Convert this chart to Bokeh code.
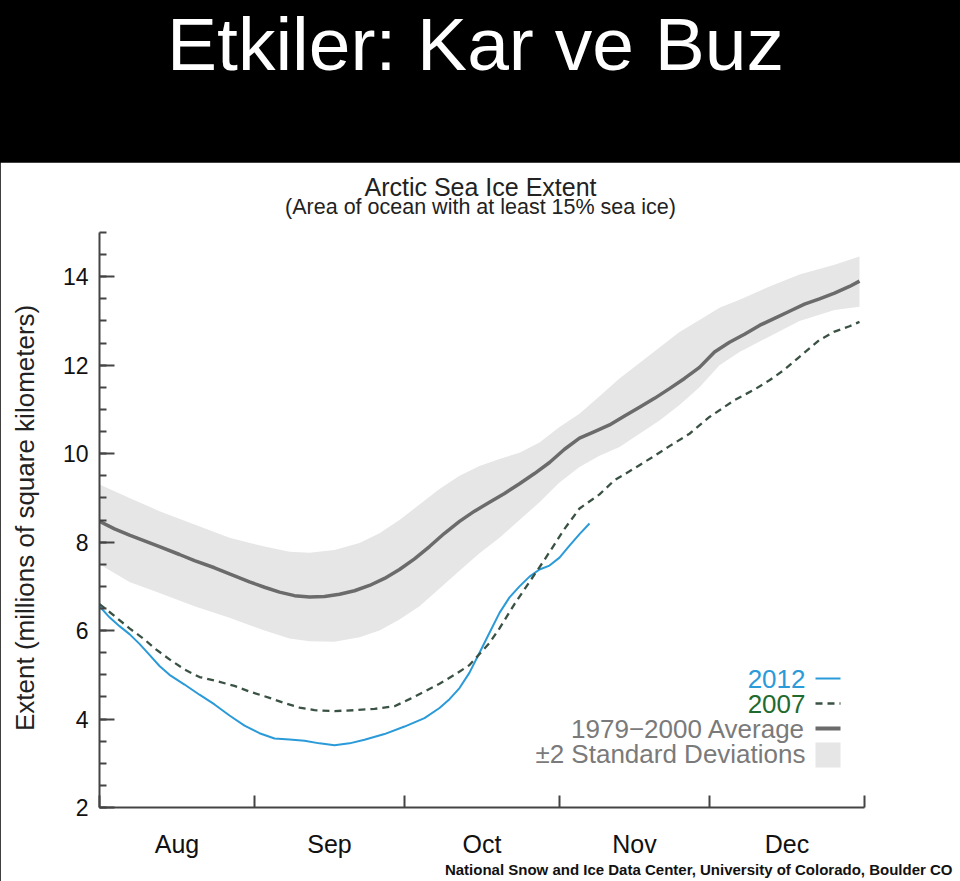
from bokeh.plotting import figure
from bokeh.layouts import column
from bokeh.models import Label, FixedTicker, Range1d, Title
from bokeh.embed import file_html
from bokeh.resources import INLINE

# ---------------- data (days since 1 Aug, extent in million km^2) ----------------
month_names = ["Aug", "Sep", "Oct", "Nov", "Dec"]
month_lengths = [31, 30, 31, 30, 31]
y_major_ticks = [2, 4, 6, 8, 10, 12, 14]

avg_days = [0, 3, 6, 9, 12, 16, 19, 23, 26, 30, 33, 36, 39, 42, 45, 48, 51, 54, 57,
            60, 63, 66, 69, 72, 75, 78, 81, 84, 87, 90, 93, 96, 99, 102, 105, 108,
            111, 114, 117, 120, 123, 126, 129, 132, 135, 138, 141, 144, 147, 150, 152]
avg_extent = [8.47, 8.3, 8.16, 8.03, 7.9, 7.72, 7.58, 7.42, 7.28, 7.1, 6.98, 6.87,
              6.79, 6.76, 6.77, 6.82, 6.9, 7.02, 7.18, 7.38, 7.62, 7.9, 8.2, 8.47,
              8.7, 8.9, 9.1, 9.32, 9.55, 9.8, 10.1, 10.35, 10.5, 10.65, 10.85, 11.05,
              11.25, 11.47, 11.7, 11.95, 12.3, 12.52, 12.7, 12.9, 13.06, 13.22, 13.38,
              13.5, 13.63, 13.78, 13.9]

sd_days = [0, 6, 12, 19, 26, 33, 38, 42, 47, 52, 56, 60, 64, 68, 72, 76, 80, 84, 88,
           92, 96, 100, 104, 108, 112, 116, 120, 124, 128, 134, 140, 147, 152]
sd_upper = [9.3, 9.0, 8.7, 8.4, 8.1, 7.9, 7.78, 7.76, 7.82, 7.98, 8.2, 8.5, 8.85, 9.2,
            9.5, 9.72, 9.88, 10.02, 10.25, 10.6, 10.9, 11.3, 11.7, 12.05, 12.4, 12.75,
            13.02, 13.3, 13.48, 13.78, 14.05, 14.27, 14.46]
sd_lower = [7.5, 7.1, 6.85, 6.55, 6.29, 6.0, 5.82, 5.76, 5.75, 5.85, 6.0, 6.25, 6.55,
            6.95, 7.35, 7.75, 8.1, 8.5, 8.9, 9.35, 9.7, 9.95, 10.15, 10.45, 10.75, 11.1,
            11.5, 12.0, 12.3, 12.65, 13.0, 13.25, 13.32]

days_2012 = [0, 2, 4, 6, 8, 10, 12, 14, 17, 20, 23, 26, 29, 32, 35, 38, 41, 44, 47,
             50, 53, 57, 61, 65, 68, 70, 72, 74, 76, 78, 80, 82, 84, 86, 88, 90, 92,
             94, 96, 98]
extent_2012 = [6.55, 6.3, 6.1, 5.92, 5.7, 5.45, 5.2, 5.0, 4.78, 4.55, 4.33, 4.08, 3.85,
               3.68, 3.56, 3.54, 3.51, 3.45, 3.41, 3.45, 3.53, 3.66, 3.83, 4.02, 4.25,
               4.45, 4.7, 5.05, 5.5, 5.95, 6.4, 6.75, 7.0, 7.22, 7.38, 7.47, 7.65, 7.92,
               8.18, 8.42]

days_2007 = [0, 3, 6, 9, 11, 14, 17, 20, 23, 27, 30, 34, 37, 40, 43, 47, 51, 55, 59,
             62, 65, 68, 71, 74, 76, 78, 80, 83, 86, 89, 91, 93, 96, 100, 103, 106,
             108, 111, 114, 118, 122, 127, 131, 134, 137, 140, 144, 147, 150, 152]
extent_2007 = [6.6, 6.33, 6.05, 5.8, 5.6, 5.35, 5.12, 4.95, 4.87, 4.75, 4.62, 4.48,
               4.36, 4.26, 4.2, 4.18, 4.2, 4.23, 4.29, 4.45, 4.62, 4.8, 5.0, 5.22, 5.47,
               5.72, 6.05, 6.6, 7.1, 7.6, 7.95, 8.3, 8.76, 9.08, 9.4, 9.6, 9.74, 9.95,
               10.17, 10.45, 10.83, 11.21, 11.45, 11.66, 11.9, 12.19, 12.57, 12.76,
               12.88, 12.98]

legend_labels = ["2012", "2007", "1979\u22122000 Average", "\u00b12 Standard Deviations"]

# ---------------- layout constants (pixels) ----------------
W, H = 960, 881
TOP_H = 162
BOT_H = H - TOP_H
FR_LEFT, FR_RIGHT = 99, 864          # page x of plot frame
FR_TOP, FR_BOTTOM = 170, 807         # page y of plot frame
AXIS_TOP = 232                        # page y of value 15 (top of drawn y axis)
Y_MIN, Y_AXIS_MAX = 2, 15
px_per_unit = (FR_BOTTOM - AXIS_TOP) / (Y_AXIS_MAX - Y_MIN)
Y_TOP = Y_AXIS_MAX + (AXIS_TOP - FR_TOP) / px_per_unit

month_bounds = [0]
for n in month_lengths:
    month_bounds.append(month_bounds[-1] + n)
month_mids = [(a + b) / 2 for a, b in zip(month_bounds[:-1], month_bounds[1:])]
px_per_day = (FR_RIGHT - FR_LEFT) / month_bounds[-1]


def day_at(px):
    return (px - FR_LEFT) / px_per_day


def val_at(py):
    return Y_MIN + (FR_BOTTOM - py) / px_per_unit


FONT = "Liberation Sans"
C_BLUE = "#2a9ad8"
C_GREEN_TXT = "#1f6a2e"
C_DASH = "#3a5244"
C_AVG = "#6b6b6b"
C_BAND = "#e6e6e6"
C_GRAYTXT = "#7a7a7a"
C_AXIS = "#444444"

# ---------------- banner ----------------
top = figure(width=W, height=TOP_H, x_range=(0, 1), y_range=(0, 1),
             output_backend="svg", toolbar_location=None,
             min_border_left=FR_LEFT, min_border_right=W - FR_RIGHT,
             min_border_top=0, min_border_bottom=0,
             x_axis_location=None, y_axis_location=None,
             background_fill_color="black", border_fill_color="black",
             outline_line_color=None, styles={"background-color": "black"})
top.grid.visible = False
top.add_layout(Label(x=475 - FR_LEFT, y=TOP_H - 1, x_units="screen", y_units="screen",
                     text="Etkiler: Kar ve Buz", text_font=FONT,
                     text_font_size="75px", text_color="white",
                     text_align="center", text_baseline="top"))

# ---------------- chart ----------------
p = figure(width=W, height=BOT_H,
           x_range=Range1d(month_bounds[0], month_bounds[-1]),
           y_range=Range1d(Y_MIN, Y_TOP),
           output_backend="svg", toolbar_location=None,
           min_border_left=FR_LEFT, min_border_right=W - FR_RIGHT,
           min_border_top=FR_TOP - TOP_H, min_border_bottom=H - FR_BOTTOM,
           background_fill_color="white", border_fill_color="white",
           outline_line_color=None,
           styles={"background-color": "white", "outline": "3px solid black",
                   "outline-offset": "-3px"})
p.grid.visible = False

p.varea(x=sd_days, y1=sd_lower, y2=sd_upper, fill_color=C_BAND)
p.line(avg_days, avg_extent, line_color=C_AVG, line_width=3.5)
p.line(days_2012, extent_2012, line_color=C_BLUE, line_width=2)
p.line(days_2007, extent_2007, line_color=C_DASH, line_width=2.3, line_dash="7 5")

xa = p.xaxis[0]
xa.ticker = FixedTicker(ticks=month_mids, minor_ticks=month_bounds)
xa.major_label_overrides = {m: n for m, n in zip(month_mids, month_names)}
xa.major_tick_in = 0
xa.major_tick_out = 0
xa.minor_tick_in = 12
xa.minor_tick_out = 0
xa.major_label_standoff = 22
xa.major_label_text_font = FONT
xa.major_label_text_font_size = "25px"
xa.major_label_text_color = "#111111"

ya = p.yaxis[0]
minor_y = [Y_MIN + 0.5 * i for i in range(int((Y_AXIS_MAX - Y_MIN) * 2) + 1)]
ya.ticker = FixedTicker(ticks=y_major_ticks, minor_ticks=minor_y)
ya.bounds = (Y_MIN, Y_AXIS_MAX)
ya.major_tick_in = 15
ya.major_tick_out = 0
ya.minor_tick_in = 7
ya.minor_tick_out = 0
ya.major_label_standoff = 11
ya.major_label_text_font = FONT
ya.major_label_text_font_size = "23px"
ya.major_label_text_color = "#111111"
# trailing no-break spaces centre the visible label on the 2..15 part of the axis
ya.axis_label = "Extent (millions of square kilometers)" + "\u00a0" * 8
ya.axis_label_text_font = FONT
ya.axis_label_text_font_size = "26px"
ya.axis_label_text_font_style = "normal"
ya.axis_label_text_color = "#222222"
ya.axis_label_standoff = 20

for ax in (xa, ya):
    ax.axis_line_color = C_AXIS
    ax.axis_line_width = 2
    for attr in ("major_tick_line_color", "minor_tick_line_color"):
        setattr(ax, attr, C_AXIS)
    ax.major_tick_line_width = 2
    ax.minor_tick_line_width = 2

# chart titles (inside the extended frame; screen units from frame bottom-left)
p.add_layout(Label(x=480 - FR_LEFT, y=FR_BOTTOM - 186, x_units="screen", y_units="screen",
                   text="Arctic Sea Ice Extent", text_font=FONT, text_font_size="25px",
                   text_color="#222222", text_align="center", text_baseline="alphabetic"))
p.add_layout(Label(x=480 - FR_LEFT, y=FR_BOTTOM - 206, x_units="screen", y_units="screen",
                   text="(Area of ocean with at least 15% sea ice)", text_font=FONT,
                   text_font_size="21.5px", text_color="#222222", text_align="center",
                   text_baseline="alphabetic"))

# credit line below the month labels
p.add_layout(Title(text="National Snow and Ice Data Center, University of Colorado, Boulder CO",
                   align="right", offset=-(952 - FR_RIGHT), vertical_align="top", standoff=0,
                   text_font=FONT, text_font_size="15px", text_font_style="bold",
                   text_color="#111111"), "below")

# legend (text right-aligned, key to its right)
leg_rows = [678, 703, 728, 753]
leg_y = [val_at(r) for r in leg_rows]
leg_text_x = day_at(805)
leg_key_x0, leg_key_x1 = day_at(815), day_at(840)
leg_colors = [C_BLUE, C_GREEN_TXT, C_GRAYTXT, C_GRAYTXT]
for lab, yy, col in zip(legend_labels, leg_y, leg_colors):
    p.add_layout(Label(x=leg_text_x, y=yy, text=lab, text_font=FONT,
                       text_font_size="26px", text_color=col, text_align="right",
                       text_baseline="middle"))
p.segment(x0=[leg_key_x0], y0=[leg_y[0]], x1=[leg_key_x1], y1=[leg_y[0]],
          line_color=C_BLUE, line_width=2)
p.segment(x0=[leg_key_x0], y0=[leg_y[1]], x1=[leg_key_x1], y1=[leg_y[1]],
          line_color=C_DASH, line_width=2.3, line_dash="7 5")
p.segment(x0=[leg_key_x0], y0=[leg_y[2]], x1=[leg_key_x1], y1=[leg_y[2]],
          line_color=C_AVG, line_width=4)
p.quad(left=[leg_key_x0], right=[leg_key_x1], bottom=[val_at(767)], top=[val_at(742)],
       fill_color=C_BAND, line_color=None)

layout = column(top, p, spacing=0, styles={"background-color": "black"})
open("out.html", "w").write(file_html(layout, INLINE))
